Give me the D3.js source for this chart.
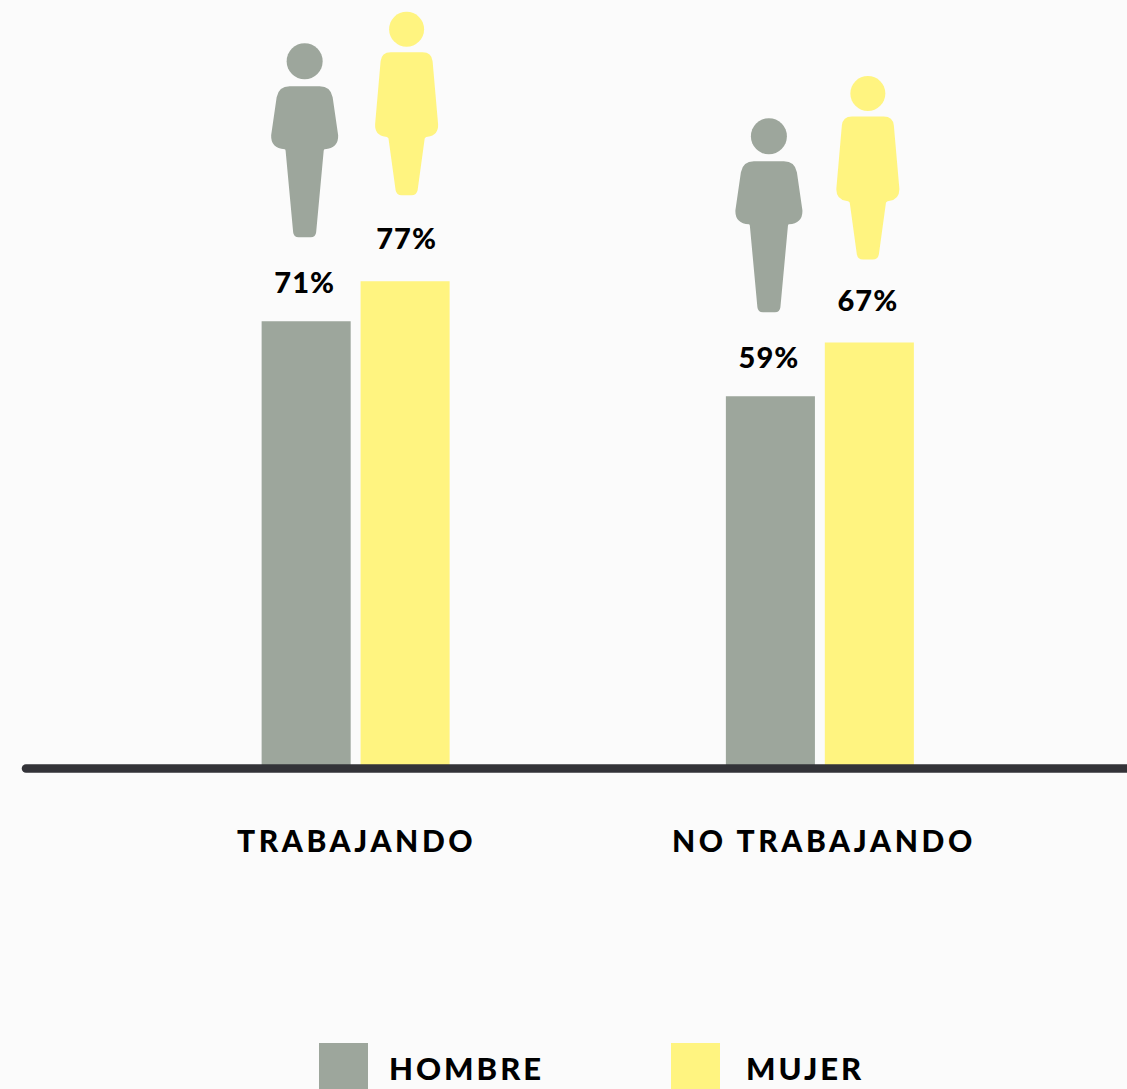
<!DOCTYPE html>
<html lang="es">
  <head>
    <meta charset="utf-8" />
    <title>Trabajando / No trabajando</title>
    <script src="https://d3js.org/d3.v7.min.js"></script>
    <style>
      html, body { margin: 0; background: #fbfbfb; overflow: hidden; }
      text { font-family: Lato, sans-serif; font-weight: 900; fill: #000; }
    </style>
  </head>
  <body>
    <div id="chart"></div>
    <script>
      var categories = ["TRABAJANDO", "NO TRABAJANDO"];
      var seriesNames = ["HOMBRE", "MUJER"];
      // printed labels
      var hombreLabels = [71, 59];
      var mujerLabels = [77, 67];
      // bar heights (they differ a bit from the labels)
      var hombreValues = [71, 59];
      var mujerValues = [77.4, 67.6];
      var colors = ["#9da69c", "#fff480"];

      var width = 1127;
      var height = 1089;
      var baseline = 765;

      var svg = d3
        .select("#chart")
        .append("svg")
        .attr("width", width)
        .attr("height", height)
        .style("display", "block");

      var x0 = d3.scaleBand().domain(categories).range([123.5, 1052]);
      var x1 = d3
        .scaleBand()
        .domain(seriesNames)
        .range([0, 188])
        .paddingInner(0.1);
      var y = d3.scaleLinear().domain([0, 100]).range([baseline, baseline - 625]);

      // person icons, origin at the top centre of the torso
      var manPath =
        "M-15,0 L15,0 Q26,0 28,11 L33.5,49 Q34,62 20,63 Q19,63 19,65 L11.5,146 Q11,151 6,151 L-6,151 Q-11,151 -11.5,146 L-19,65 Q-19,63 -20,63 Q-34,62 -33.5,49 L-28,11 Q-26,0 -15,0 Z";
      var womanPath =
        "M-16,0 L16,0 Q25,0 26,9 L31.5,72 Q32,83 21,84.5 Q18,85 18,87 L11,138 Q10,143 5,143 L-5,143 Q-10,143 -11,138 L-18,87 Q-18,85 -21,84.5 Q-32,83 -31.5,72 L-26,9 Q-25,0 -16,0 Z";

      var rows = [];
      categories.forEach(function (c, i) {
        rows.push({ cat: c, name: "HOMBRE", value: hombreValues[i], label: hombreLabels[i] });
        rows.push({ cat: c, name: "MUJER", value: mujerValues[i], label: mujerLabels[i] });
      });
      var color = d3.scaleOrdinal().domain(seriesNames).range(colors);

      function barLeft(d) {
        var center = x0(d.cat) + x0.bandwidth() / 2;
        return center - 94 + x1(d.name);
      }
      // icons and labels are not quite centred on their bars
      function markCenter(d) {
        if (d.name == "HOMBRE") return barLeft(d) + x1.bandwidth() / 2 - 1.5;
        var nudge = d.cat == "TRABAJANDO" ? 1.5 : -1.5;
        return barLeft(d) + x1.bandwidth() / 2 + nudge;
      }

      svg
        .selectAll("rect.bar")
        .data(rows)
        .join("rect")
        .attr("class", "bar")
        .attr("x", barLeft)
        .attr("y", function (d) { return y(d.value); })
        .attr("width", x1.bandwidth())
        .attr("height", function (d) { return baseline - y(d.value); })
        .attr("fill", function (d) { return color(d.name); });

      svg
        .selectAll("text.value")
        .data(rows)
        .join("text")
        .attr("class", "value")
        .attr("x", markCenter)
        .attr("y", function (d) { return y(d.value) - (d.name == "HOMBRE" ? 28 : 32); })
        .attr("text-anchor", "middle")
        .style("font-size", "29px")
        .style("letter-spacing", "1px")
        .text(function (d) { return d.label + "%"; });

      var icons = svg
        .selectAll("g.person")
        .data(rows)
        .join("g")
        .attr("class", "person")
        .attr("transform", function (d) {
          var h = 235;
          if (d.name == "MUJER") h = d.cat == "TRABAJANDO" ? 229 : 226;
          return "translate(" + markCenter(d) + "," + (y(d.value) - h) + ")";
        })
        .attr("fill", function (d) { return color(d.name); });
      icons.append("path").attr("d", function (d) {
        return d.name == "HOMBRE" ? manPath : womanPath;
      });
      icons
        .append("circle")
        .attr("cy", function (d) { return d.name == "HOMBRE" ? -25 : -23; })
        .attr("r", function (d) { return d.name == "HOMBRE" ? 18 : 17.5; });

      svg
        .append("line")
        .attr("x1", 26)
        .attr("x2", width + 10)
        .attr("y1", 768.5)
        .attr("y2", 768.5)
        .attr("stroke", "#333338")
        .attr("stroke-width", 8.5)
        .attr("stroke-linecap", "round");

      // category axis
      var axis = svg
        .append("g")
        .attr("transform", "translate(0,852)")
        .call(d3.axisBottom(x0).tickSize(0).tickPadding(0));
      axis.select(".domain").remove();
      axis
        .selectAll("text")
        .attr("y", 0)
        .attr("dy", 0)
        .attr("dx", function (d) { return d == "TRABAJANDO" ? 1 : 4; })
        .style("font-family", "Lato, sans-serif")
        .style("font-weight", 900)
        .style("font-size", "30px")
        .style("letter-spacing", "3.6px")
        .attr("fill", "#000");

      // legend
      var legendX = [319, 671];
      var legendTextX = [389, 746];
      seriesNames.forEach(function (s, i) {
        svg
          .append("rect")
          .attr("x", legendX[i])
          .attr("y", 1043)
          .attr("width", 49)
          .attr("height", 46)
          .attr("fill", colors[i]);
        svg
          .append("text")
          .attr("x", legendTextX[i])
          .attr("y", 1080)
          .style("font-size", "31px")
          .style("letter-spacing", "3px")
          .text(s);
      });
    </script>
  </body>
</html>
